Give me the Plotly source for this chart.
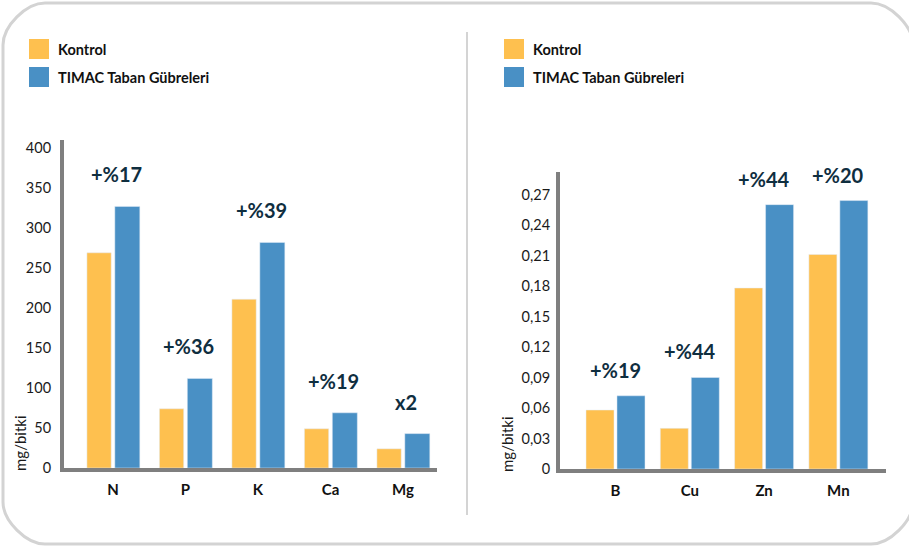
import plotly.graph_objects as go

# ---------------- data ----------------
macro_cats = ["N", "P", "K", "Ca", "Mg"]
macro_kontrol = [269, 74, 211, 49, 24]
macro_timac = [327, 112, 282, 69, 43]
macro_labels = ["+%17", "+%36", "+%39", "+%19", "x2"]
macro_ticks = [0, 50, 100, 150, 200, 250, 300, 350, 400]
macro_ticktext = ["0", "50", "100", "150", "200", "250", "300", "350", "400"]

micro_cats = ["B", "Cu", "Zn", "Mn"]
micro_kontrol = [0.058, 0.040, 0.178, 0.211]
micro_timac = [0.072, 0.090, 0.260, 0.264]
micro_labels = ["+%19", "+%44", "+%44", "+%20"]
micro_ticks = [0, 0.03, 0.06, 0.09, 0.12, 0.15, 0.18, 0.21, 0.24, 0.27]
micro_ticktext = ["0", "0,03", "0,06", "0,09", "0,12", "0,15", "0,18", "0,21", "0,24", "0,27"]

series_names = ["Kontrol", "TIMAC Taban Gübreleri"]
unit = "mg/bitki"

# ---------------- style ----------------
W, H = 909, 549
YELLOW = "#FEC04F"
BLUE = "#4990C5"
NAVY = "#0F2E3F"
AXIS = "#7F7F7F"
FONT = "Lato"


def px(x):
    return x / W


def py(y):
    return 1 - y / H


fig = go.Figure()

# left chart bars
fig.add_trace(go.Bar(x=macro_cats, y=macro_kontrol, name=series_names[0], marker_color=YELLOW,
                     width=0.335, offset=-0.36, xaxis="x", yaxis="y", showlegend=False))
fig.add_trace(go.Bar(x=macro_cats, y=macro_timac, name=series_names[1], marker_color=BLUE,
                     width=0.345, offset=0.025, xaxis="x", yaxis="y", showlegend=False))
# right chart bars
fig.add_trace(go.Bar(x=micro_cats, y=micro_kontrol, name=series_names[0], marker_color=YELLOW,
                     width=0.377, offset=-0.397, xaxis="x2", yaxis="y2", showlegend=False))
fig.add_trace(go.Bar(x=micro_cats, y=micro_timac, name=series_names[1], marker_color=BLUE,
                     width=0.377, offset=0.02, xaxis="x2", yaxis="y2", showlegend=False))

annotations = []
for c, v, t in zip(macro_cats, macro_timac, macro_labels):
    annotations.append(dict(x=c, y=v, xref="x", yref="y", text=t, showarrow=False,
                            xshift=3, yshift=32, xanchor="center", yanchor="middle",
                            font=dict(family=FONT, size=20, color=NAVY, weight="bold")))
for c, v, t in zip(micro_cats, micro_timac, micro_labels):
    annotations.append(dict(x=c, y=v, xref="x2", yref="y2", text=t, showarrow=False,
                            xshift=0, yshift=26, xanchor="center", yanchor="middle",
                            font=dict(family=FONT, size=20, color=NAVY, weight="bold")))

# y-axis titles (placed near the bottom of the axes)
annotations.append(dict(x=px(20), y=py(443), xref="paper", yref="paper", text=unit, textangle=-90,
                        xanchor="center", yanchor="middle", showarrow=False,
                        font=dict(family=FONT, size=15, color="#1a1a1a")))
annotations.append(dict(x=px(507), y=py(444), xref="paper", yref="paper", text=unit, textangle=-90,
                        xanchor="center", yanchor="middle", showarrow=False,
                        font=dict(family=FONT, size=15, color="#1a1a1a")))

shapes = []
# custom legends
colors = [YELLOW, BLUE]
for lx in (29, 504):
    for i, (nm, col) in enumerate(zip(series_names, colors)):
        cy = 49 + 28 * i
        shapes.append(dict(type="rect", xref="paper", yref="paper",
                           x0=px(lx), x1=px(lx + 20), y0=py(cy - 10), y1=py(cy + 10),
                           fillcolor=col, line=dict(width=0)))
        annotations.append(dict(x=px(lx + 27), y=py(cy), xref="paper", yref="paper", text=nm,
                                xanchor="left", yanchor="middle", showarrow=False,
                                font=dict(family=FONT, size=14.5, color="#111111", weight="bold")))

# divider
shapes.append(dict(type="line", xref="paper", yref="paper", x0=px(467), x1=px(467),
                   y0=py(32), y1=py(515), line=dict(color="#d4d4d4", width=2)))

# rounded outer frame
x0, x1, y0, y1, r = 3, 913, 3, 544, 42
k = 0.45 * r
path = (
    f"M {px(x0 + r)},{py(y0)} L {px(x1 - r)},{py(y0)} "
    f"C {px(x1 - r + k)},{py(y0)} {px(x1)},{py(y0 + r - k)} {px(x1)},{py(y0 + r)} "
    f"L {px(x1)},{py(y1 - r)} "
    f"C {px(x1)},{py(y1 - r + k)} {px(x1 - r + k)},{py(y1)} {px(x1 - r)},{py(y1)} "
    f"L {px(x0 + r)},{py(y1)} "
    f"C {px(x0 + r - k)},{py(y1)} {px(x0)},{py(y1 - r + k)} {px(x0)},{py(y1 - r)} "
    f"L {px(x0)},{py(y0 + r)} "
    f"C {px(x0)},{py(y0 + r - k)} {px(x0 + r - k)},{py(y0)} {px(x0 + r)},{py(y0)} Z"
)
shapes.append(dict(type="path", xref="paper", yref="paper", path=path,
                   line=dict(color="#d3d3d3", width=3), fillcolor="rgba(0,0,0,0)"))

tickfont = dict(family=FONT, size=14.5, color="#1a1a1a")
catfont = dict(family=FONT, size=15, color="#111111", weight="bold")
common = dict(showline=True, linecolor=AXIS, linewidth=4, showgrid=False, zeroline=False,
              ticks="", automargin=False, fixedrange=True)

fig.update_layout(
    width=W, height=H, autosize=False,
    margin=dict(l=0, r=0, t=0, b=0, pad=0),
    paper_bgcolor="white", plot_bgcolor="white",
    barmode="overlay",
    showlegend=False,
    xaxis=dict(domain=[px(64), px(437)], range=[-0.676, 4.469], tickfont=catfont,
               ticklabelstandoff=5, anchor="y", **common),
    yaxis=dict(domain=[py(468), py(140)], range=[0, 410], tickvals=macro_ticks,
               ticktext=macro_ticktext, tickfont=tickfont, ticklabelstandoff=6, anchor="x",
               **common),
    xaxis2=dict(domain=[px(560), px(886)], range=[-0.747, 3.641], tickfont=catfont,
                ticklabelstandoff=5, anchor="y2", **common),
    yaxis2=dict(domain=[py(469), py(172)], range=[0, 0.2921], tickvals=micro_ticks,
                ticktext=micro_ticktext, tickfont=tickfont, ticklabelstandoff=3, anchor="x2",
                **common),
    annotations=annotations,
    shapes=shapes,
)

fig.write_html("out.html", config={"displayModeBar": False, "responsive": False},
               post_script="document.documentElement.style.margin='0';document.body.style.margin='0';"
                           "document.body.style.padding='0';document.body.style.overflow='hidden';")
